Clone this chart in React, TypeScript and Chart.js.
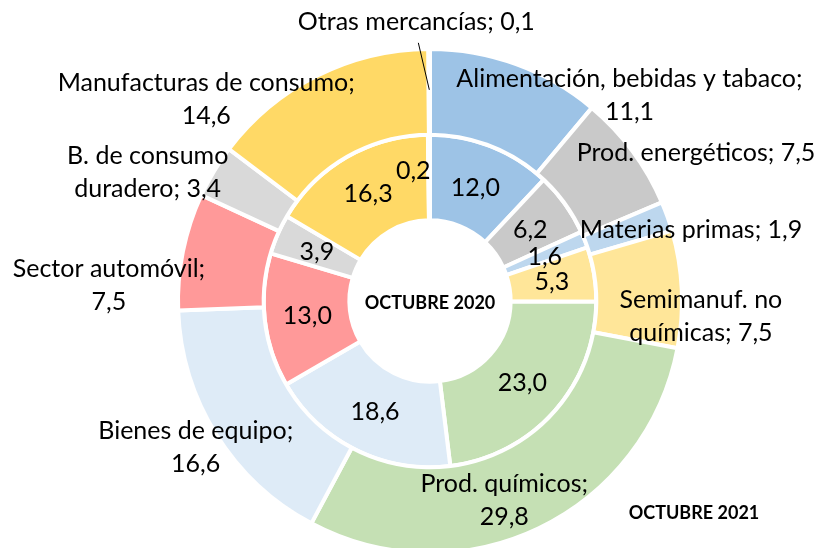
import React, { useEffect, useRef } from "react";
import { Chart, registerables } from "chart.js";

Chart.register(...registerables);

const categories = [
  "Alimentación, bebidas y tabaco",
  "Prod. energéticos",
  "Materias primas",
  "Semimanuf. no químicas",
  "Prod. químicos",
  "Bienes de equipo",
  "Sector automóvil",
  "B. de consumo duradero",
  "Manufacturas de consumo",
  "Otras mercancías",
];
const values2021 = [11.1, 7.5, 1.9, 7.5, 29.8, 16.6, 7.5, 3.4, 14.6, 0.1];
const values2020 = [12.0, 6.2, 1.6, 5.3, 23.0, 18.6, 13.0, 3.9, 16.3, 0.2];

// Multi-line label text for the outer ring (as Excel wrapped it)
const outerLabelLines = [
  ["Alimentación, bebidas y tabaco;", "11,1"],
  ["Prod. energéticos; 7,5"],
  ["Materias primas; 1,9"],
  ["Semimanuf. no", "químicas; 7,5"],
  ["Prod. químicos;", "29,8"],
  ["Bienes de equipo;", "16,6"],
  ["Sector automóvil;", "7,5"],
  ["B. de consumo", "duradero; 3,4"],
  ["Manufacturas de consumo;", "14,6"],
  ["Otras mercancías; 0,1"],
];

const colors = [
  "#9DC3E6",
  "#C9C9C9",
  "#BDD7EE",
  "#FFE699",
  "#C5E0B4",
  "#DEEBF7",
  "#FF9999",
  "#D9D9D9",
  "#FFD966",
  "#A5A5A5",
];

// label offsets from each arc's centroid (layout only)
const outerOffsets = [
  [128, -9],
  [98, -24],
  [64, -1],
  [62, 25],
  [-16, 11],
  [-57, 35],
  [-116, 26],
  [-103, -21],
  [-130, -15],
  [-13, -70],
];
const innerOffsets = [
  [0, 2],
  [0, 1],
  [0, 2],
  [0, 1],
  [0, 0],
  [0, 0],
  [0, 0],
  [0, 0],
  [0, 0],
  [-16, -7],
];

const FONT = "Lato, 'Open Sans', sans-serif";
const fmt = (v: number) => v.toFixed(1).replace(".", ",");

const labelPlugin = {
  id: "labelPlugin",
  afterDatasetsDraw(chart: any) {
    const ctx = chart.ctx as CanvasRenderingContext2D;
    ctx.save();
    ctx.fillStyle = "#000";
    ctx.textAlign = "center";
    ctx.textBaseline = "middle";
    const lineH = 33;
    // outer ring
    const outer = chart.getDatasetMeta(0);
    outer.data.forEach((arc: any, i: number) => {
      const p = arc.tooltipPosition(false);
      const lines = outerLabelLines[i];
      const cx = p.x + outerOffsets[i][0];
      const cy = p.y + outerOffsets[i][1];
      ctx.font = `25px ${FONT}`;
      const top = cy - ((lines.length - 1) * lineH) / 2;
      lines.forEach((l, k) => ctx.fillText(l, cx, top + k * lineH));
      if (i === 9) {
        ctx.strokeStyle = "#000";
        ctx.lineWidth = 1;
        ctx.beginPath();
        ctx.moveTo(cx + 2, cy + 21);
        ctx.lineTo(p.x, p.y - 2);
        ctx.stroke();
      }
    });
    // inner ring
    const inner = chart.getDatasetMeta(1);
    inner.data.forEach((arc: any, i: number) => {
      const p = arc.tooltipPosition(false);
      ctx.font = `25px ${FONT}`;
      ctx.fillText(fmt(values2020[i]), p.x + innerOffsets[i][0], p.y + innerOffsets[i][1]);
    });
    // titles
    const a = chart.chartArea;
    const cx = (a.left + a.right) / 2;
    const cy = (a.top + a.bottom) / 2;
    ctx.font = `bold 18px ${FONT}`;
    ctx.fillText("OCTUBRE 2020", cx, cy + 2);
    ctx.fillText("OCTUBRE 2021", cx + 264, cy + 212);
    ctx.restore();
  },
};

export default function App() {
  const ref = useRef<HTMLCanvasElement | null>(null);
  useEffect(() => {
    document.body.style.margin = "0";
    const chart = new Chart(ref.current as HTMLCanvasElement, {
      type: "doughnut",
      data: {
        labels: categories,
        datasets: [
          {
            label: "OCTUBRE 2021",
            data: values2021,
            backgroundColor: colors,
            borderColor: "#ffffff",
            borderWidth: 4,
          },
          {
            label: "OCTUBRE 2020",
            data: values2020,
            backgroundColor: colors,
            borderColor: "#ffffff",
            borderWidth: 4,
          },
        ],
      },
      options: {
        responsive: false,
        animation: false,
        cutout: "32%",
        layout: { padding: { left: 176, right: 133, top: 47, bottom: 5 } },
        plugins: {
          legend: { display: false },
          tooltip: { enabled: false },
        },
      },
      plugins: [labelPlugin],
    });
    return () => chart.destroy();
  }, []);
  return (
    <div style={{ position: "absolute", left: 0, top: 0, width: 817, height: 548, overflow: "hidden" }}>
      <canvas ref={ref} width={817} height={560} style={{ display: "block" }} />
    </div>
  );
}
